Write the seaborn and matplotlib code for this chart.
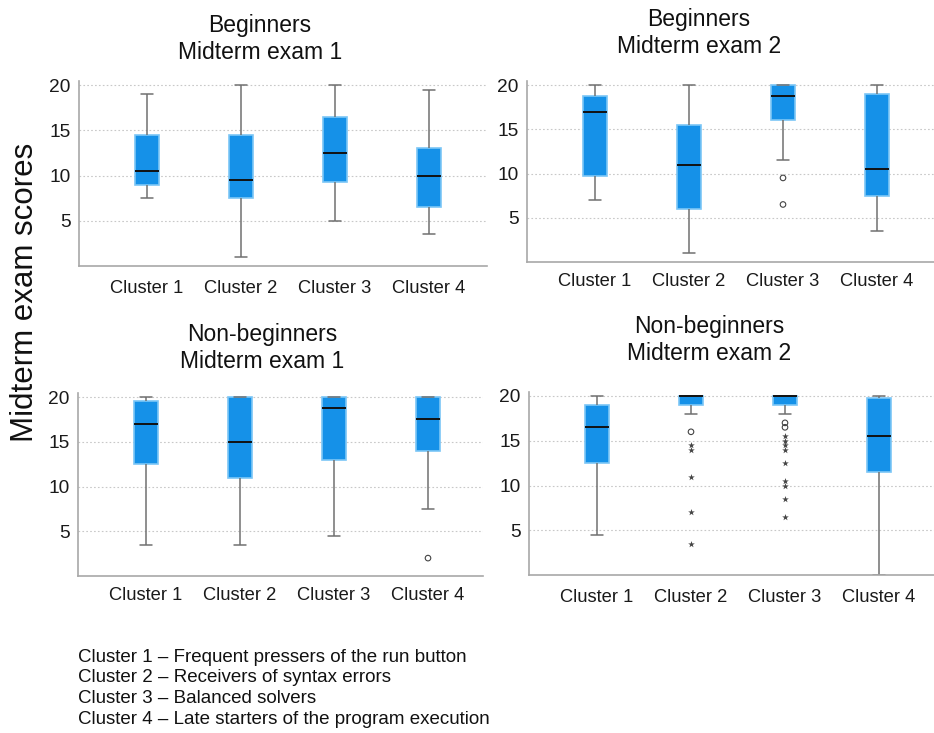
import pandas as pd
import matplotlib
matplotlib.use('Agg')
import matplotlib.pyplot as plt
import seaborn as sns

# clusters shown on every x axis
clusters = ['Cluster 1', 'Cluster 2', 'Cluster 3', 'Cluster 4']

# box statistics: whisker low, q1, median, q3, whisker high
beg1_low = [7.5, 1.0, 5.0, 3.5]
beg1_q1 = [9.0, 7.5, 9.25, 6.5]
beg1_med = [10.5, 9.5, 12.5, 10.0]
beg1_q3 = [14.5, 14.5, 16.5, 13.0]
beg1_high = [19.0, 20.0, 20.0, 19.5]

beg2_low = [7.0, 1.0, 11.5, 3.5]
beg2_q1 = [9.75, 6.0, 16.0, 7.5]
beg2_med = [17.0, 11.0, 18.75, 10.5]
beg2_q3 = [18.75, 15.5, 20.0, 19.0]
beg2_high = [20.0, 20.0, 20.0, 20.0]
beg2_circles = {'Cluster 3': [9.5, 6.5]}
beg2_stars = {}

non1_low = [3.5, 3.5, 4.5, 7.5]
non1_q1 = [12.5, 11.0, 13.0, 14.0]
non1_med = [17.0, 15.0, 18.75, 17.5]
non1_q3 = [19.5, 20.0, 20.0, 20.0]
non1_high = [20.0, 20.0, 20.0, 20.0]
non1_circles = {'Cluster 4': [2.0]}
non1_stars = {}

non2_low = [4.5, 18.0, 18.0, 0.0]
non2_q1 = [12.5, 19.0, 19.0, 11.5]
non2_med = [16.5, 20.0, 20.0, 15.5]
non2_q3 = [19.0, 20.0, 20.0, 19.75]
non2_high = [20.0, 20.0, 20.0, 20.0]
non2_circles = {'Cluster 2': [16.0], 'Cluster 3': [17.0, 16.5]}
non2_stars = {'Cluster 2': [14.5, 14.0, 11.0, 7.0, 3.5],
              'Cluster 3': [15.5, 15.0, 14.5, 14.0, 12.5, 10.5, 10.0, 8.5, 6.5]}

titles = ['Beginners\nMidterm exam 1', 'Beginners\nMidterm exam 2',
          'Non-beginners\nMidterm exam 1', 'Non-beginners\nMidterm exam 2']
legend_lines = ['Cluster 1 \u2013 Frequent pressers of the run button',
                'Cluster 2 \u2013 Receivers of syntax errors',
                'Cluster 3 \u2013 Balanced solvers',
                'Cluster 4 \u2013 Late starters of the program execution']

panels = [
    (beg1_low, beg1_q1, beg1_med, beg1_q3, beg1_high, {}, {}),
    (beg2_low, beg2_q1, beg2_med, beg2_q3, beg2_high, beg2_circles, beg2_stars),
    (non1_low, non1_q1, non1_med, non1_q3, non1_high, non1_circles, non1_stars),
    (non2_low, non2_q1, non2_med, non2_q3, non2_high, non2_circles, non2_stars),
]

sns.set_style('white')
plt.rcParams['font.family'] = ['Liberation Sans', 'DejaVu Sans']

W, H = 934, 733
fig = plt.figure(figsize=(W / 100, H / 100), dpi=100)

# panel placement in pixels: left, right, y of value 0, y of value 20
geom = [(79, 487, 266, 85), (527, 934, 262, 85), (78, 483, 576, 397), (529, 934, 575, 396)]
title_pos = [(260, 39), (699, 33), (262, 348), (709, 340)]
xpad = [10, 8, 8, 10]

box_blue = '#1591e8'
edge_blue = '#7cc6f6'
grey = '#707070'
ytop = 20.4

for i, (low, q1, med, q3, high, circles, stars) in enumerate(panels):
    left, right, y0, y20 = geom[i]
    top = y0 - (y0 - y20) * ytop / 20
    ax = fig.add_axes([left / W, 1 - y0 / H, (right - left) / W, (y0 - top) / H])

    rows = []
    for j, c in enumerate(clusters):
        for v in (low[j], q1[j], med[j], q3[j], high[j]):
            rows.append({'cluster': c, 'score': v})
    df = pd.DataFrame(rows)

    sns.boxplot(data=df, x='cluster', y='score', order=clusters, ax=ax,
                width=0.25, whis=(0, 100), showfliers=False, saturation=1,
                color=box_blue, linewidth=1.1,
                boxprops={'edgecolor': edge_blue, 'linewidth': 1.2},
                medianprops={'color': '#111111', 'linewidth': 1.4},
                whiskerprops={'color': grey, 'linewidth': 1.1},
                capprops={'color': grey, 'linewidth': 1.1})

    if circles:
        cdf = pd.DataFrame([{'cluster': c, 'score': v} for c, vs in circles.items() for v in vs])
        sns.stripplot(data=cdf, x='cluster', y='score', order=clusters, ax=ax,
                      jitter=False, marker='o', size=4, facecolors='none',
                      edgecolor='#444444', linewidth=0.8, zorder=5)
    if stars:
        sdf = pd.DataFrame([{'cluster': c, 'score': v} for c, vs in stars.items() for v in vs])
        sns.stripplot(data=sdf, x='cluster', y='score', order=clusters, ax=ax,
                      jitter=False, marker='*', size=5, color='#444444',
                      linewidth=0, zorder=5)

    off, sp = 68, 94
    ax.set_xlim(-off / sp, (right - left - off) / sp)
    ax.set_ylim(0, ytop)
    ax.set_yticks([5, 10, 15, 20])
    ax.set_xlabel('')
    ax.set_ylabel('')
    ax.yaxis.grid(True, linestyle=(0, (1.5, 2)), color='#c8c8c8', linewidth=0.8)
    ax.set_axisbelow(True)
    ax.tick_params(axis='both', length=0, colors='#1a1a1a')
    ax.tick_params(axis='x', pad=xpad[i], labelsize=13.2)
    ax.tick_params(axis='y', pad=6, labelsize=13.8)
    for s in ['top', 'right']:
        ax.spines[s].set_visible(False)
    for s in ['left', 'bottom']:
        ax.spines[s].set_color('#a8a8a8')
        ax.spines[s].set_linewidth(1.2)

    tx, ty = title_pos[i]
    fig.text(tx / W, 1 - ty / H, titles[i], ha='center', va='center',
             fontsize=16.5, linespacing=1.2, color='#111111')

fig.text(25 / W, 1 - 292 / H, 'Midterm exam scores', rotation=90,
         ha='center', va='center', fontsize=22.5, color='#111111')

for k, line in enumerate(legend_lines):
    fig.text(78 / W, 1 - (657 + k * 20.7) / H, line, ha='left', va='center',
             fontsize=13.5, color='#111111')

fig.savefig('out.png', dpi=100)
